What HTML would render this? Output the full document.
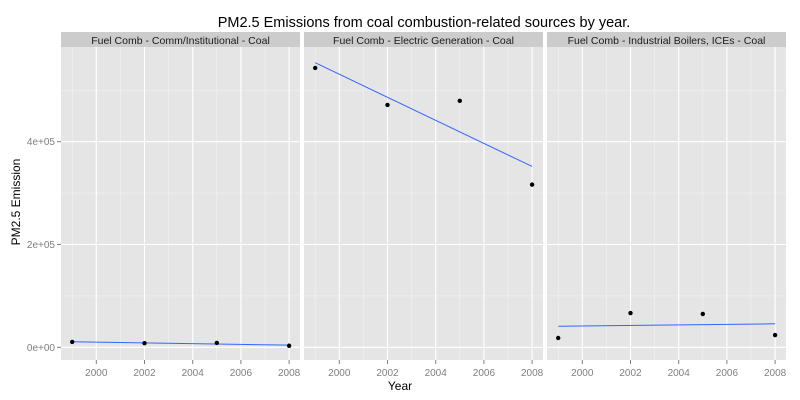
<!DOCTYPE html>
<html><head><meta charset="utf-8"><style>
body{margin:0;background:#fff;}
svg{display:block;font-family:"Liberation Sans",Arial,sans-serif;}
</style></head><body>
<svg id="chart" width="800" height="400">
<text x="424" y="27" text-anchor="middle" font-size="14.5" fill="#000">PM2.5 Emissions from coal combustion-related sources by year.</text>
<text x="400" y="390" text-anchor="middle" font-size="12" fill="#000">Year</text>
<text transform="translate(20,202) rotate(-90)" text-anchor="middle" font-size="12" fill="#000">PM2.5 Emission</text>
</svg>
<script>
const facets=["Fuel Comb - Comm/Institutional - Coal","Fuel Comb - Electric Generation - Coal","Fuel Comb - Industrial Boilers, ICEs - Coal"];
const years=[1999,2002,2005,2008];
const commValues=[10500,8000,8500,3000];
const electricValues=[543500,471500,479500,316500];
const industrialValues=[18100,66700,64800,23900];
const yTicks=[0,200000,400000];
const yTickLabels=["0e+00","2e+05","4e+05"];
const xTicks=[2000,2002,2004,2006,2008];
const series=[commValues,electricValues,industrialValues];
const NS="http://www.w3.org/2000/svg";
const svg=document.getElementById('chart');
const P0=61,PW=239,GAP=4,PT=47,PB=360,STRIP=32;
function sx(i,yr){return P0+i*(PW+GAP)+11.2+(yr-1999)*24.1;}
function sy(v){return 347.3-v/100000*51.4;}
function mk(tag,attrs){const e=document.createElementNS(NS,tag);for(const k in attrs)e.setAttribute(k,attrs[k]);svg.appendChild(e);return e;}
facets.forEach((f,i)=>{
  const x0=P0+i*(PW+GAP);
  const strip=mk('rect',{x:x0,y:STRIP,width:PW,height:PT-STRIP,fill:'#cccccc'});
  
  
  const st=mk('text',{x:x0+PW/2,y:44,'text-anchor':'middle','font-size':'10.5',fill:'#1a1a1a'});
  st.textContent=f;
  
  
  const bg=mk('rect',{x:x0,y:PT,width:PW,height:PB-PT,fill:'#e5e5e5'});
  
  
  // minor grid
  for(let v=100000;v<=500000;v+=200000){mk('line',{x1:x0,x2:x0+PW,y1:sy(v),y2:sy(v),stroke:'#f2f2f2','stroke-width':0.6});}
  for(let yr=1999;yr<=2007;yr+=2){mk('line',{x1:sx(i,yr),x2:sx(i,yr),y1:PT,y2:PB,stroke:'#f2f2f2','stroke-width':0.6});}
  yTicks.forEach(v=>mk('line',{x1:x0,x2:x0+PW,y1:sy(v),y2:sy(v),stroke:'#fff','stroke-width':1.1}));
  xTicks.forEach(yr=>{
    mk('line',{x1:sx(i,yr),x2:sx(i,yr),y1:PT,y2:PB,stroke:'#fff','stroke-width':1.1});
    mk('line',{x1:sx(i,yr),x2:sx(i,yr),y1:PB,y2:PB+4,stroke:'#7f7f7f'});
    const t=mk('text',{x:sx(i,yr),y:376,'text-anchor':'middle','font-size':'10',fill:'#7f7f7f'});
    t.textContent=yr;
    
    
  });
  // regression line
  const vals=series[i];
  const mx=years.reduce((a,b)=>a+b,0)/years.length,my=vals.reduce((a,b)=>a+b,0)/vals.length;
  let num=0,den=0;years.forEach((yr,j)=>{num+=(yr-mx)*(vals[j]-my);den+=(yr-mx)**2;});
  const slope=num/den;
  const fit=yr=>my+slope*(yr-mx);
  const ln=mk('line',{x1:sx(i,1999),y1:sy(fit(1999)),x2:sx(i,2008),y2:sy(fit(2008)),stroke:'#3366ff','stroke-width':1});
  
  
  vals.forEach((v,j)=>{
    const c=mk('circle',{cx:sx(i,years[j]),cy:sy(v),r:2.2,fill:'#000'});
    
    
  });
});
yTicks.forEach((v,k)=>{
  mk('line',{x1:57,x2:61,y1:sy(v),y2:sy(v),stroke:'#7f7f7f'});
  const t=mk('text',{x:55,y:sy(v)+3.5,'text-anchor':'end','font-size':'10',fill:'#7f7f7f'});
  t.textContent=yTickLabels[k];
  
  
});
</script>
</body></html>
